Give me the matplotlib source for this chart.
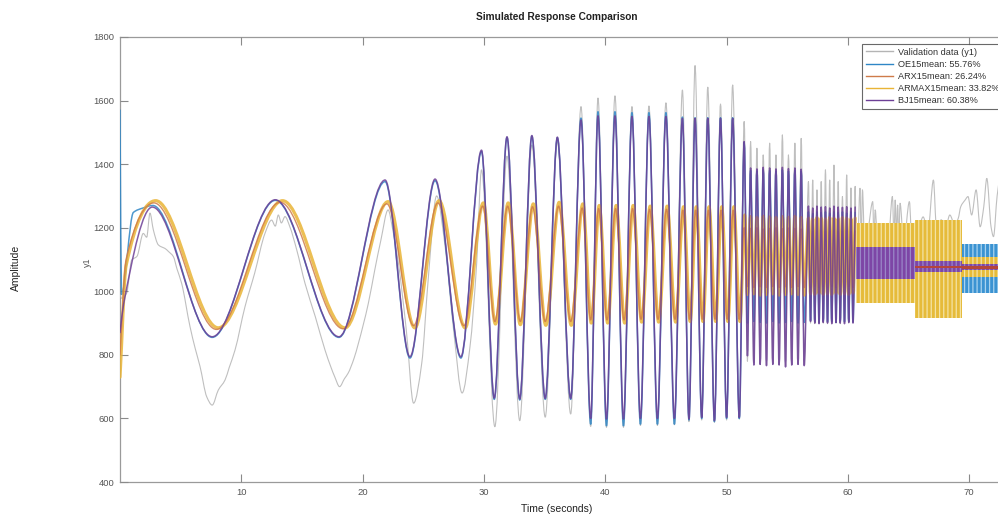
import numpy as np
import matplotlib
matplotlib.use("Agg")
import matplotlib.pyplot as plt
from matplotlib.path import Path
from matplotlib.patches import PathPatch
from matplotlib.lines import Line2D

plt.rcParams['font.family'] = ['Liberation Sans', 'DejaVu Sans']
plt.rcParams['hatch.linewidth'] = 0.9

# ---------------- data ----------------
legend_labels = ["Validation data (y1)", "OE15mean: 55.76%", "ARX15mean: 26.24%",
                 "ARMAX15mean: 33.82%", "BJ15mean: 60.38%"]
x_ticks = [10, 20, 30, 40, 50, 60, 70]
y_ticks = [400, 600, 800, 1000, 1200, 1400, 1600, 1800]

# validation data: points along the measured trace (0 - 51.45 s)
val_t = [0.0, 0.14, 0.55, 0.96, 1.4, 1.92, 2.2, 2.47, 2.75, 3.16, 3.4, 3.7, 4.0, 4.4, 4.7,
         5.08, 5.77, 6.2, 6.6, 7.15, 7.6, 8.1, 8.66, 9.0, 9.48, 10.3, 11.1, 11.95, 12.5,
         12.8, 13.05, 13.3, 13.6, 14.0, 14.57, 15.25, 16.1, 16.9, 17.4, 17.7, 18.1, 18.5,
         18.8, 19.3, 19.65, 20.47, 21.0, 21.5, 22.1, 22.5, 22.95, 23.6, 24.2, 24.87, 25.4,
         26.1, 26.8, 27.5, 28.2, 28.85, 29.4, 29.8, 30.9, 31.9, 32.95, 33.95, 35.05, 36.05,
         37.15, 38.0, 38.8, 39.4, 40.1, 40.8, 41.5, 42.2, 42.9, 43.6, 44.3, 45.0, 45.7,
         46.36, 46.9, 47.4, 47.95, 48.45, 49.0, 49.5, 50.0, 50.5, 51.05, 51.45]
val_y = [990, 978, 994, 1098, 1110, 1182, 1170, 1246, 1193, 1146, 1140, 1135, 1125, 1109, 1070,
         1025, 889, 820, 763, 668, 642, 689, 721, 760, 815, 951, 1057, 1182, 1224,
         1205, 1240, 1215, 1235, 1203, 1130, 1025, 920, 815, 760, 731, 700, 725,
         742, 790, 836, 962, 1067, 1160, 1256, 1190, 1088, 878, 648, 773, 1035,
         1300, 1140, 878, 680, 826, 1088, 1382, 574, 1425, 593, 1460, 604, 1470,
         614, 1581, 575, 1608, 572, 1615, 572, 1581, 578, 1583, 578, 1593, 580,
         1633, 590, 1710, 595, 1642, 588, 1589, 595, 1649, 598, 1534]

# OE model trace (0 - 51.45 s)
oe_t = [0.0, 0.12, 1.1, 1.9, 2.7, 7.6, 12.8, 18.05, 21.85, 23.9, 25.97, 28.1, 29.8, 30.85,
        31.9, 32.95, 33.95, 35.05, 36.05, 37.15, 38.0, 38.8, 39.4, 40.1, 40.8, 41.5, 42.2,
        42.9, 43.6, 44.3, 45.0, 45.7, 46.36, 46.9, 47.4, 47.95, 48.45, 49.0, 49.5, 50.0,
        50.5, 51.05, 51.45]
oe_y = [1570, 990, 1248, 1262, 1270, 855, 1286, 855, 1345, 790, 1348, 790, 1440, 660,
        1484, 658, 1488, 660, 1483, 660, 1545, 582, 1565, 577, 1565, 577, 1562,
        582, 1562, 582, 1562, 582, 1548, 595, 1546, 600, 1546, 590, 1546, 600,
        1546, 600, 1468]

# ARX model trace (0 - 51.45 s)
arx_t = [0.0, 0.5, 2.8, 7.95, 13.2, 18.4, 22.0, 24.2, 26.2, 28.35, 29.9, 30.9, 31.95, 33.0,
         34.0, 35.05, 36.15, 37.15, 38.1, 38.8, 39.45, 40.15, 40.85, 41.55, 42.25, 42.95,
         43.65, 44.35, 45.05, 45.75, 46.4, 46.95, 47.45, 48.0, 48.5, 49.05, 49.55, 50.05,
         50.55, 51.05, 51.45]
arx_y = [800, 1100, 1278, 880, 1280, 882, 1275, 892, 1278, 892, 1268, 905, 1268, 905,
         1266, 905, 1268, 905, 1262, 910, 1260, 910, 1260, 910, 1260, 912,
         1258, 912, 1258, 912, 1255, 912, 1255, 912, 1255, 912, 1255, 912,
         1255, 912, 1200]

# ARMAX model trace (0 - 51.5 s)
armax_t = [0.0, 0.5, 2.94, 8.1, 13.4, 18.55, 22.1, 24.3, 26.3, 28.45, 29.95, 30.95, 32.0,
           33.0, 34.07, 35.1, 36.2, 37.2, 38.15, 38.85, 39.5, 40.2, 40.9, 41.6, 42.3, 43.0,
           43.7, 44.4, 45.1, 45.8, 46.45, 47.0, 47.5, 48.05, 48.55, 49.1, 49.6, 50.1, 50.6,
           51.1, 51.5]
armax_y = [730, 1080, 1285, 885, 1285, 885, 1282, 885, 1285, 885, 1278, 897, 1278,
           895, 1275, 893, 1280, 893, 1275, 900, 1270, 900, 1270, 900, 1270, 903,
           1268, 903, 1268, 903, 1266, 905, 1266, 905, 1266, 905, 1266, 905, 1266,
           905, 1240]

# BJ model trace (0 - 51.45 s)
bj_t = [0.0, 0.3, 2.66, 7.6, 12.8, 18.05, 21.85, 23.9, 25.97, 28.1, 29.8, 30.85, 31.9,
        32.95, 33.95, 35.05, 36.05, 37.15, 38.0, 38.8, 39.4, 40.1, 40.8, 41.5, 42.2, 42.9,
        43.6, 44.3, 45.0, 45.7, 46.36, 46.9, 47.4, 47.95, 48.45, 49.0, 49.5, 50.0, 50.5,
        51.05, 51.45]
bj_y = [870, 960, 1265, 857, 1288, 857, 1350, 794, 1353, 794, 1444, 664, 1486,
        661, 1490, 663, 1485, 663, 1539, 600, 1552, 598, 1552, 598, 1550, 600,
        1550, 600, 1550, 600, 1544, 598, 1544, 603, 1544, 593, 1544, 603, 1544,
        603, 1471]

# fast oscillation part (51.7 - 60.6 s): turning-point times and values
fast_t = [51.72, 51.98, 52.25, 52.5, 52.77, 53.02, 53.29, 53.55, 53.81, 54.07, 54.33, 54.6,
          54.86, 55.1, 55.37, 55.63, 55.89, 56.15, 56.4, 56.75, 56.92, 57.1, 57.27, 57.45,
          57.62, 57.8, 57.97, 58.15, 58.32, 58.5, 58.67, 58.85, 59.02, 59.2, 59.37, 59.55,
          59.72, 59.9, 60.07, 60.25, 60.42, 60.6]
val_fast = [780, 1471, 775, 1450, 770, 1429, 768, 1466, 772, 1429, 770, 1492, 765, 1429, 770,
            1466, 772, 1481, 770, 1345, 900, 1350, 898, 1319, 902, 1345, 900, 1382, 898, 1350,
            902, 1397, 900, 1345, 898, 1298, 902, 1366, 900, 1325, 905, 1330]
oe_fast = [900, 1380, 905, 1378, 902, 1382, 900, 1380, 905, 1378, 900, 1382, 902, 1378, 905,
           1380, 900, 1378, 902, 1250, 908, 1245, 905, 1250, 902, 1248, 906, 1250, 904, 1246,
           905, 1250, 902, 1248, 906, 1250, 904, 1246, 905, 1250, 903, 1248]
arx_fast = [1015, 1198, 1012, 1200, 1014, 1196, 1012, 1198, 1015, 1200, 1012, 1197, 1014, 1199,
            1012, 1198, 1015, 1196, 1012, 1192, 1012, 1188, 1015, 1190, 1012, 1192, 1014, 1188,
            1012, 1190, 1015, 1192, 1012, 1188, 1014, 1190, 1012, 1192, 1015, 1188, 1012, 1190]
armax_fast = [990, 1235, 992, 1232, 988, 1236, 990, 1234, 992, 1232, 988, 1235, 990, 1233,
              992, 1236, 990, 1232, 988, 1230, 992, 1228, 990, 1232, 994, 1230, 990, 1228,
              992, 1232, 990, 1230, 994, 1228, 990, 1232, 992, 1230, 990, 1228, 994, 1230]
bj_fast = [797, 1388, 768, 1385, 770, 1390, 766, 1388, 770, 1385, 768, 1390, 762, 1386, 768,
           1388, 770, 1384, 766, 1268, 905, 1262, 900, 1268, 898, 1265, 902, 1266, 900, 1262,
           898, 1268, 902, 1265, 900, 1264, 898, 1266, 902, 1262, 900, 1265]

# validation data after 60.6 s
val_tail_t = [60.7, 61.0, 61.1, 61.2, 61.4, 61.7, 62.05, 62.15, 62.25, 62.5, 63.0, 63.3, 63.67,
              63.8, 63.9, 64.0, 64.1, 64.2, 64.3, 64.6, 65.07, 65.3, 65.6, 65.8, 66.2, 66.6,
              67.05, 67.3, 67.7, 68.0, 68.4, 68.8, 69.1, 69.3, 69.66, 69.9, 70.2, 70.57,
              70.9, 71.2, 71.45, 71.8, 72.0, 72.3, 72.6]
val_tail_y = [1000, 1324, 1150, 1319, 1120, 1200, 1282, 1150, 1256, 1120, 1180, 1140, 1298,
              1170, 1287, 1180, 1271, 1160, 1277, 1150, 1282, 1130, 1220, 1200, 1234, 1190,
              1350, 1200, 1225, 1190, 1240, 1210, 1230, 1266, 1287, 1298, 1240, 1319,
              1203, 1266, 1355, 1203, 1172, 1300, 1380]

# very fast part (60.7 s - end): oscillation envelopes per block
band_edges = [60.7, 65.55, 69.4, 76.0]
oe_lo = [1025, 1062, 995]
oe_hi = [1160, 1092, 1150]
armax_lo = [963, 917, 1045]
armax_hi = [1214, 1224, 1108]
bj_lo = [1040, 1062, 1068]
bj_hi = [1140, 1094, 1086]
arx_lo = [1055, 1073, 1071]
arx_hi = [1110, 1080, 1080]

# ---------------- styles ----------------
C_VAL = '#b4b4b4'
C_OE = '#2f86c6'
C_ARX = '#cf7b4a'
C_ARMAX = '#e9b436'
C_BJ = '#6d3f96'


def smooth_path(ts, ys):
    """Bezier path through the given points (monotone tangents, flat at turning points)."""
    ts = np.asarray(ts, float)
    ys = np.asarray(ys, float)
    n = len(ts)
    h = np.diff(ts)
    s = np.diff(ys) / h
    m = np.zeros(n)
    m[0] = s[0]
    m[-1] = s[-1]
    for i in range(1, n - 1):
        if s[i - 1] * s[i] > 0:
            h0, h1 = h[i - 1], h[i]
            m[i] = 3 * (h0 + h1) / ((2 * h1 + h0) / s[i - 1] + (h1 + 2 * h0) / s[i])
    verts = [(ts[0], ys[0])]
    codes = [Path.MOVETO]
    for i in range(n - 1):
        d = h[i] / 3.0
        verts += [(ts[i] + d, ys[i] + m[i] * d), (ts[i + 1] - d, ys[i + 1] - m[i + 1] * d),
                  (ts[i + 1], ys[i + 1])]
        codes += [Path.CURVE4] * 3
    return Path(verts, codes)


fig = plt.figure(figsize=(9.98, 5.14), dpi=100)
ax = fig.add_axes([120 / 998, 1 - 482 / 514, 922 / 998, 445 / 514])

series = [
    (val_t + fast_t + val_tail_t, val_y + val_fast + val_tail_y, C_VAL, 0.8, 1),
    (oe_t + fast_t, oe_y + oe_fast, C_OE, 1.1, 2),
    (armax_t + fast_t, armax_y + armax_fast, C_ARMAX, 2.3, 3),
    (arx_t + fast_t, arx_y + arx_fast, C_ARX, 1.0, 4),
    (bj_t + fast_t, bj_y + bj_fast, C_BJ, 1.1, 5),
]
for t, y, c, lw, z in series:
    ax.add_patch(PathPatch(smooth_path(t, y), fill=False, edgecolor=c, lw=lw, zorder=z,
                           joinstyle='round', capstyle='round', alpha=0.85))

arx_z = [4.5, 6, 6]
for i in range(len(band_edges) - 1):
    xs = [band_edges[i], band_edges[i + 1]]
    ax.fill_between(xs, [oe_lo[i]] * 2, [oe_hi[i]] * 2, facecolor='#3b93d2',
                    edgecolor='#a9d3ef', hatch='||||', lw=0, zorder=2)
    ax.fill_between(xs, [armax_lo[i]] * 2, [armax_hi[i]] * 2, facecolor='#e6bb3a',
                    edgecolor='#f4e3a6', hatch='||||', lw=0, zorder=3)
    ax.fill_between(xs, [bj_lo[i]] * 2, [bj_hi[i]] * 2, facecolor='#7d46a6',
                    edgecolor='#9a86c8', hatch='||||', lw=0, zorder=5)
    ax.fill_between(xs, [arx_lo[i]] * 2, [arx_hi[i]] * 2, color='#b5453a', lw=0,
                    zorder=arx_z[i])

ax.set_xlim(0, 76)
ax.set_ylim(400, 1800)
ax.set_xticks(x_ticks)
ax.set_yticks(y_ticks)
ax.tick_params(direction='in', length=5.5, width=0.8, colors='#8a8a8a', labelcolor='#555555',
               labelsize=6.8, top=True, right=True, pad=4)
for sp in ax.spines.values():
    sp.set_color('#9a9a9a')
    sp.set_linewidth(0.9)
    sp.set_zorder(0.5)

handles = [Line2D([], [], color=c, lw=1.0) for c in [C_VAL, C_OE, C_ARX, C_ARMAX, C_BJ]]
leg = fig.legend(handles, legend_labels, loc='upper left',
                 bbox_to_anchor=(862 / 998, 1 - 44 / 514), fontsize=6.6, frameon=True,
                 fancybox=False, handlelength=3.0, handletextpad=0.5, borderpad=0.4,
                 labelspacing=0.35, borderaxespad=0)
leg.get_frame().set_edgecolor('#444444')
leg.get_frame().set_linewidth(0.8)
for txt in leg.get_texts():
    txt.set_color('#333333')

fig.text(557 / 998, 1 - 17 / 514, "Simulated Response Comparison", ha='center', va='center',
         fontsize=7.3, fontweight='bold', color='#222222')
fig.text(557 / 998, 1 - 509 / 514, "Time (seconds)", ha='center', va='center',
         fontsize=7.5, color='#222222')
fig.text(16 / 998, 1 - 268 / 514, "Amplitude", ha='center', va='center', rotation=90,
         fontsize=7.5, color='#222222')
fig.text(87 / 998, 1 - 262 / 514, "y1", ha='center', va='center', rotation=90,
         fontsize=6.5, color='#555555')

fig.savefig("out.png", dpi=100)
